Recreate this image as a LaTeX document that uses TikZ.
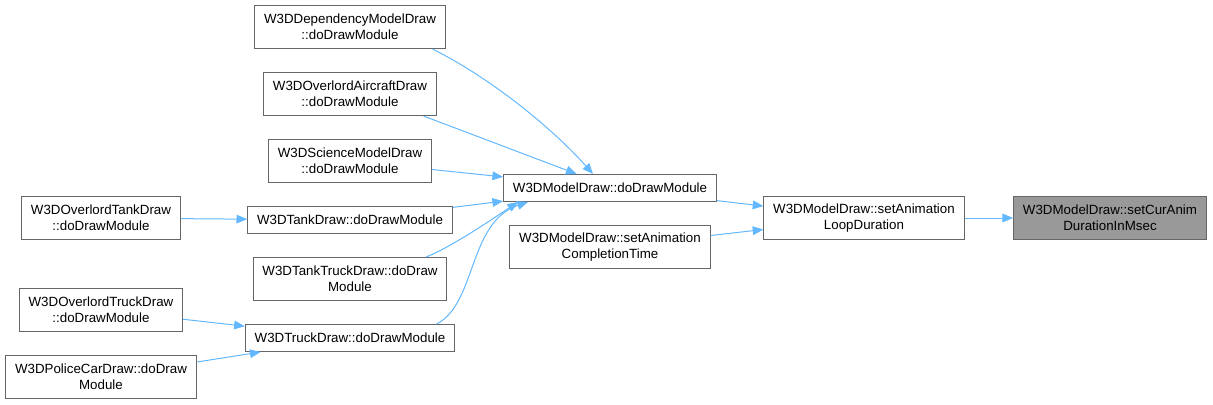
\documentclass[tikz,border=0pt]{standalone}
\usepackage{fontspec}
\setmainfont{Liberation Sans}
\usepackage{xcolor}
\usepackage{tikz}
\usetikzlibrary{arrows.meta, positioning}

\definecolor{boxgray}{HTML}{666666}
\definecolor{curfill}{HTML}{999999}
\definecolor{edgeblue}{HTML}{63B8FF}

\begin{document}
\begin{tikzpicture}[
  x=0.75pt, y=-0.75pt,
  node distance=17.25pt and 36pt,
  font=\fontsize{10}{12}\selectfont,
  box/.style={draw=boxgray, line width=0.75pt, fill=white, minimum height=20.25pt, inner xsep=7pt, inner ysep=3pt, align=center},
  tall/.style={box, minimum height=32.25pt},
  arrow/.style={-{Triangle[length=8pt,width=6.5pt]}, draw=edgeblue, line width=0.75pt}
]
\useasboundingbox (0,0) rectangle (1213,404);

% Nodes
\node[tall, fill=curfill] (cur) at (1110,218) {W3DModelDraw::setCurAnim\\DurationInMsec};
\node[tall] (loop) at (864,218) {W3DModelDraw::setAnimation\\LoopDuration};
\node[box] (model) at (610,188) {W3DModelDraw::doDrawModule};
\node[tall] (compl) at (610,247) {W3DModelDraw::setAnimation\\CompletionTime};

\node[tall] (dep) at (350,27) {W3DDependencyModelDraw\\::doDrawModule};
\node[tall, below=of dep] (aircraft) {W3DOverlordAircraftDraw\\::doDrawModule};
\node[tall, below=of aircraft] (science) {W3DScienceModelDraw\\::doDrawModule};
\node[box, below=of science] (tank) {W3DTankDraw::doDrawModule};
\node[tall, below=of tank] (tanktruck) {W3DTankTruckDraw::doDraw\\Module};
\node[box, below=of tanktruck] (truck) {W3DTruckDraw::doDrawModule};

\node[tall] (ovtank) at (101,218) {W3DOverlordTankDraw\\::doDrawModule};
\node[tall] (ovtruck) at (101,310) {W3DOverlordTruckDraw\\::doDrawModule};
\node[tall] (police) at (101,377) {W3DPoliceCarDraw::doDraw\\Module};

% Pointers
\draw[arrow] (loop) -- (cur);
\draw[arrow] (model) -- (loop);
\draw[arrow] (compl) -- (loop);
\draw[arrow] ([xshift=-10pt]dep.south east) .. controls +(60,30) and +(-40,-45) .. ([xshift=-12.75pt]model.north);
\draw[arrow] ([xshift=-10pt]aircraft.south east) -- ([xshift=-25pt]model.north);
\draw[arrow] (science) -- (model);
\draw[arrow] (tank) -- (model);
\draw[arrow] ([xshift=-16pt]tanktruck.north east) .. controls +(25,-10) and +(-30,20) .. ([xshift=-69pt]model.south);
\draw[arrow] ([xshift=-14pt]truck.north east) .. controls +(40,-20) and +(-60,20) .. ([xshift=-61.5pt]model.south);
\draw[arrow] (ovtank) -- (tank);
\draw[arrow] (ovtruck) -- (truck);
\draw[arrow] (police) -- (truck);
\end{tikzpicture}
\end{document}
